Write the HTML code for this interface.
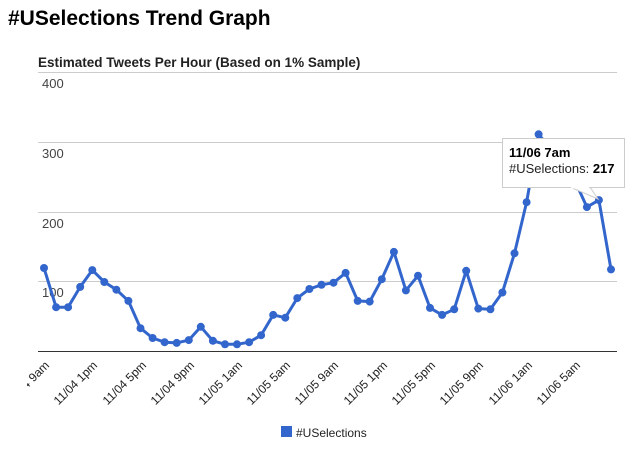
<!DOCTYPE html>
<html><head><meta charset="utf-8"><style>
body{margin:0;background:#fff;width:639px;height:449px;overflow:hidden;font-family:"Liberation Sans",Arial,sans-serif}
</style></head><body>
<svg width="639" height="449" xmlns="http://www.w3.org/2000/svg" font-family="Liberation Sans, Arial, sans-serif">
<defs><clipPath id="cl"><rect x="27" y="350" width="612" height="80"/></clipPath></defs>
<text x="8" y="25" font-size="21" font-weight="bold" fill="#000">#USelections Trend Graph</text>
<text x="38" y="67" font-size="13.5" font-weight="bold" fill="#222">Estimated Tweets Per Hour (Based on 1% Sample)</text>
<g stroke="#cccccc" stroke-width="1">
<line x1="38" y1="72.5" x2="617" y2="72.5"/>
<line x1="38" y1="142.5" x2="617" y2="142.5"/>
<line x1="38" y1="212.5" x2="617" y2="212.5"/>
<line x1="38" y1="281.5" x2="617" y2="281.5"/>
</g>
<line x1="38" y1="351.5" x2="617" y2="351.5" stroke="#333" stroke-width="1"/>
<g font-size="13" fill="#444">
<text x="42" y="88">400</text><text x="42" y="158">300</text><text x="42" y="228">200</text><text x="42" y="297">100</text>
</g>
<g id="ln"></g>
<g font-size="12" fill="#222" text-anchor="end" clip-path="url(#cl)">
<text transform="translate(50,366) rotate(-45)">11/04 9am</text>
<text transform="translate(98,366) rotate(-45)">11/04 1pm</text>
<text transform="translate(147,366) rotate(-45)">11/04 5pm</text>
<text transform="translate(195,366) rotate(-45)">11/04 9pm</text>
<text transform="translate(243,366) rotate(-45)">11/05 1am</text>
<text transform="translate(291,366) rotate(-45)">11/05 5am</text>
<text transform="translate(339,366) rotate(-45)">11/05 9am</text>
<text transform="translate(388,366) rotate(-45)">11/05 1pm</text>
<text transform="translate(436,366) rotate(-45)">11/05 5pm</text>
<text transform="translate(484,366) rotate(-45)">11/05 9pm</text>
<text transform="translate(533,366) rotate(-45)">11/06 1am</text>
<text transform="translate(581,366) rotate(-45)">11/06 5am</text>
</g>
<rect x="281" y="426" width="11" height="11" fill="#3366cc"/>
<text x="296" y="437" font-size="12" fill="#222">#USelections</text>
<polygon points="570,187 598,199 590,187" fill="#fff" stroke="#ccc"/>
<rect x="502.5" y="138.5" width="122" height="49" fill="#fff" stroke="#ccc"/>
<line x1="571" y1="187.5" x2="589" y2="187.5" stroke="#fff" stroke-width="2"/>
<text x="509" y="157" font-size="13" font-weight="bold" fill="#000">11/06 7am</text>
<text x="509" y="173" font-size="13" fill="#222">#USelections: <tspan font-weight="bold" fill="#000">217</tspan></text>
</svg>
<script>
var v=[120,64,64,93,117,100,89,73,34,20,14,13,17,36,16,11,11,14,24,53,49,77,90,96,99,113,73,72,104,143,88,109,63,53,61,116,62,61,85,141,214,311,290,270,245,207,217,118];
var g=document.getElementById('ln'),pts=[],ns='http://www.w3.org/2000/svg';
for(var i=0;i<v.length;i++){var x=44+i*(567/47),y=352-v[i]*0.7;pts.push(x.toFixed(1)+','+y.toFixed(1));}
var p=document.createElementNS(ns,'polyline');p.setAttribute('points',pts.join(' '));p.setAttribute('fill','none');p.setAttribute('stroke','#3366cc');p.setAttribute('stroke-width','3');p.setAttribute('stroke-linejoin','round');g.appendChild(p);
for(i=0;i<pts.length;i++){var c=document.createElementNS(ns,'circle'),xy=pts[i].split(',');c.setAttribute('cx',xy[0]);c.setAttribute('cy',xy[1]);c.setAttribute('r','4');c.setAttribute('fill','#3366cc');g.appendChild(c);}
</script>
</body></html>
